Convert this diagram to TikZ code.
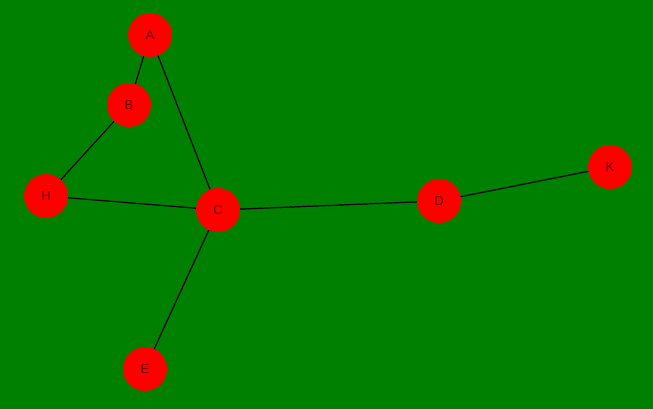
\documentclass[tikz,border=0pt]{standalone}
\usepackage{fontspec}
\setmainfont{Liberation Sans}
\usetikzlibrary{positioning}
\definecolor{bggreen}{RGB}{0,128,0}
\definecolor{nodered}{RGB}{255,0,0}
\definecolor{labelred}{RGB}{100,0,0}
\begin{document}
\begin{tikzpicture}[x=1pt,y=-1pt,
  vertex/.style={circle,fill=nodered,minimum size=44pt,inner sep=0pt,text=labelred,font=\fontsize{13}{15}\selectfont},
  link/.style={draw=black,line width=1.2pt}]

\fill[bggreen] (0,0) rectangle (653,409);
\useasboundingbox (0,0) rectangle (653,409);

\node[vertex] (A) at (150,35)  {A};
\node[vertex] (B) at (129,105) {B};
\node[vertex] (H) at (46,196)  {H};
\node[vertex] (C) at (218,210) {C};
\node[vertex] (D) at (439,201) {D};
\node[vertex] (K) at (610,167) {K};
\node[vertex] (E) at (145,369) {E};

\path[link] (A) edge (B)
            edge (C)
(B) edge (H)
(H) edge (C)
(C) edge (D)
    edge (E)
(D) edge (K);
\end{tikzpicture}
\end{document}
